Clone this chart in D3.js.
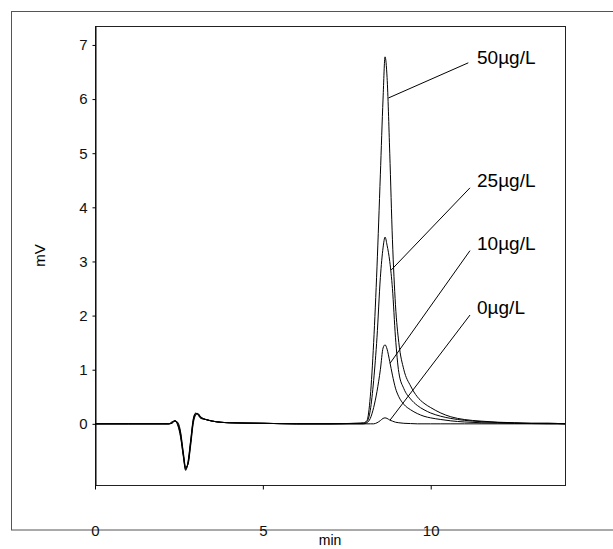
<!DOCTYPE html>
<html>
<head>
<meta charset="utf-8">
<script src="https://cdn.jsdelivr.net/npm/d3@7"></script>
<style>
  body { margin: 0; background: #fff; }
  svg { font-family: "Liberation Sans", Arial, sans-serif; }
</style>
</head>
<body>
<div id="chart"></div>
<script>
// retention times (min), shared by all traces
var times = [0, 1, 2, 2.2, 2.3, 2.38, 2.46, 2.55, 2.63, 2.7, 2.77, 2.85, 2.93, 3.0, 3.06, 3.15, 3.3, 3.5, 4, 5, 6, 7, 7.8,
  8.0, 8.1, 8.2, 8.3, 8.4, 8.5, 8.58, 8.64, 8.7, 8.78, 8.86, 8.95, 9.05, 9.2, 9.4, 9.6, 9.8, 10.0, 10.3, 10.6, 11.0,
  11.5, 12, 12.5, 13, 13.5, 14];

// detector signal (mV) for each standard
var s50 = [0, 0, 0, 0, 0.04, 0.05, -0.02, -0.25, -0.6, -0.86, -0.7, -0.3, 0.1, 0.2, 0.17, 0.1, 0.08, 0.05, 0.02, 0.01, 0, 0, 0.01,
  0.02, 0.06, 0.5, 1.5, 2.9, 4.6, 6.0, 6.78, 6.4, 5.0, 3.4, 2.2, 1.5, 1.0, 0.7, 0.5, 0.38, 0.3, 0.2, 0.13, 0.08,
  0.05, 0.03, 0.02, 0.01, 0.01, 0];
var s25 = [0, 0, 0, 0, 0.03, 0.06, 0, -0.22, -0.58, -0.84, -0.72, -0.32, 0.08, 0.19, 0.18, 0.11, 0.08, 0.05, 0.02, 0.01, 0, 0, 0.01,
  0.01, 0.04, 0.25, 0.8, 1.6, 2.7, 3.25, 3.45, 3.3, 3.0, 2.5, 1.6, 0.95, 0.65, 0.46, 0.34, 0.26, 0.2, 0.14, 0.1, 0.065,
  0.04, 0.025, 0.015, 0.01, 0.01, 0];
var s10 = [0, 0, 0, 0, 0.02, 0.06, 0.02, -0.18, -0.55, -0.82, -0.74, -0.36, 0.05, 0.18, 0.19, 0.12, 0.08, 0.05, 0.02, 0.01, 0, 0, 0,
  0, 0.02, 0.1, 0.3, 0.6, 1.0, 1.4, 1.46, 1.38, 1.15, 0.9, 0.66, 0.5, 0.36, 0.26, 0.19, 0.14, 0.11, 0.08, 0.055, 0.035,
  0.02, 0.015, 0.01, 0.005, 0, 0];
var s0 = [0, 0, 0, 0, 0.01, 0.05, 0.03, -0.15, -0.52, -0.8, -0.75, -0.4, 0.02, 0.16, 0.19, 0.13, 0.08, 0.05, 0.02, 0.01, 0, 0, 0,
  0, 0, 0, 0, 0.02, 0.06, 0.1, 0.11, 0.1, 0.07, 0.05, 0.03, 0.02, 0.01, 0.005, 0, 0, 0, 0, 0, 0,
  0, 0, 0, 0, 0, 0];

var seriesNames = ["50µg/L", "25µg/L", "10µg/L", "0µg/L"];
var seriesValues = [s50, s25, s10, s0];

// label leader lines: [t on peak, v on peak, t at label, v at label]
var leaders = [
  [8.74, 6.02, 11.12, 6.67],
  [8.82, 2.84, 11.17, 4.36],
  [8.79, 1.12, 11.17, 3.2],
  [8.79, 0.07, 11.17, 2.01]
];
var labelPos = [[11.38, 6.78], [11.38, 4.5], [11.38, 3.34], [11.38, 2.16]];

var xTicks = [0, 5, 10];
var yTicks = [0, 1, 2, 3, 4, 5, 6, 7];

var W = 613, H = 549;
var plot = {left: 95, top: 26, right: 565, bottom: 485};

var svg = d3.select("#chart").append("svg")
  .attr("width", W)
  .attr("height", H);

// outer frame
svg.append("rect")
  .attr("x", 11.5).attr("y", 11.5)
  .attr("width", 700).attr("height", 518.5)
  .attr("fill", "none")
  .attr("stroke", "#555");

var x = d3.scaleLinear().domain([0, 14]).range([plot.left, plot.right]);
var y = d3.scaleLinear().domain([-1.13, 7.35]).range([plot.bottom, plot.top]);

// plot frame
svg.append("rect")
  .attr("x", plot.left + 0.5).attr("y", plot.top + 0.5)
  .attr("width", plot.right - plot.left).attr("height", plot.bottom - plot.top)
  .attr("fill", "none")
  .attr("stroke", "#222");

// axes
var yAxis = svg.append("g")
  .attr("transform", "translate(" + (plot.left + 0.5) + ",0)")
  .call(d3.axisLeft(y).tickValues(yTicks).tickSize(3).tickPadding(5).tickSizeOuter(0));
yAxis.select(".domain").attr("stroke", "#000");
yAxis.selectAll("text").style("font-size", "15px").attr("fill", "#111");

var xAxis = svg.append("g")
  .attr("transform", "translate(0," + (plot.bottom + 0.5) + ")")
  .call(d3.axisBottom(x).tickValues(xTicks).tickSize(4).tickPadding(36).tickSizeOuter(0));
xAxis.select(".domain").remove();
xAxis.selectAll("text").style("font-size", "15px").attr("fill", "#111");

// axis titles
svg.append("text")
  .attr("transform", "translate(45," + ((plot.top + plot.bottom) / 2) + ") rotate(-90)")
  .attr("text-anchor", "middle")
  .style("font-size", "15px")
  .text("mV");

svg.append("text")
  .attr("x", (plot.left + plot.right) / 2)
  .attr("y", 545)
  .attr("text-anchor", "middle")
  .style("font-size", "14px")
  .text("min");

// traces
var line = d3.line()
  .x(function(d) { return x(d[0]); })
  .y(function(d) { return y(d[1]); })
  .curve(d3.curveMonotoneX);

svg.append("g")
  .selectAll("path")
  .data(seriesValues)
  .enter()
  .append("path")
    .attr("fill", "none")
    .attr("stroke", "#000")
    .attr("stroke-width", 1)
    .attr("d", function(vals) {
      return line(times.map(function(t, i) { return [t, vals[i]]; }));
    });

// leaders and labels
svg.append("g")
  .selectAll("line")
  .data(leaders)
  .enter()
  .append("line")
    .attr("x1", function(d) { return x(d[0]); })
    .attr("y1", function(d) { return y(d[1]); })
    .attr("x2", function(d) { return x(d[2]); })
    .attr("y2", function(d) { return y(d[3]); })
    .attr("stroke", "#000")
    .attr("stroke-width", 1);

svg.append("g")
  .selectAll("text")
  .data(seriesNames)
  .enter()
  .append("text")
    .attr("x", function(d, i) { return x(labelPos[i][0]); })
    .attr("y", function(d, i) { return y(labelPos[i][1]); })
    .attr("dy", "0.35em")
    .style("font-size", "19px")
    .text(function(d) { return d; });
</script>
</body>
</html>
